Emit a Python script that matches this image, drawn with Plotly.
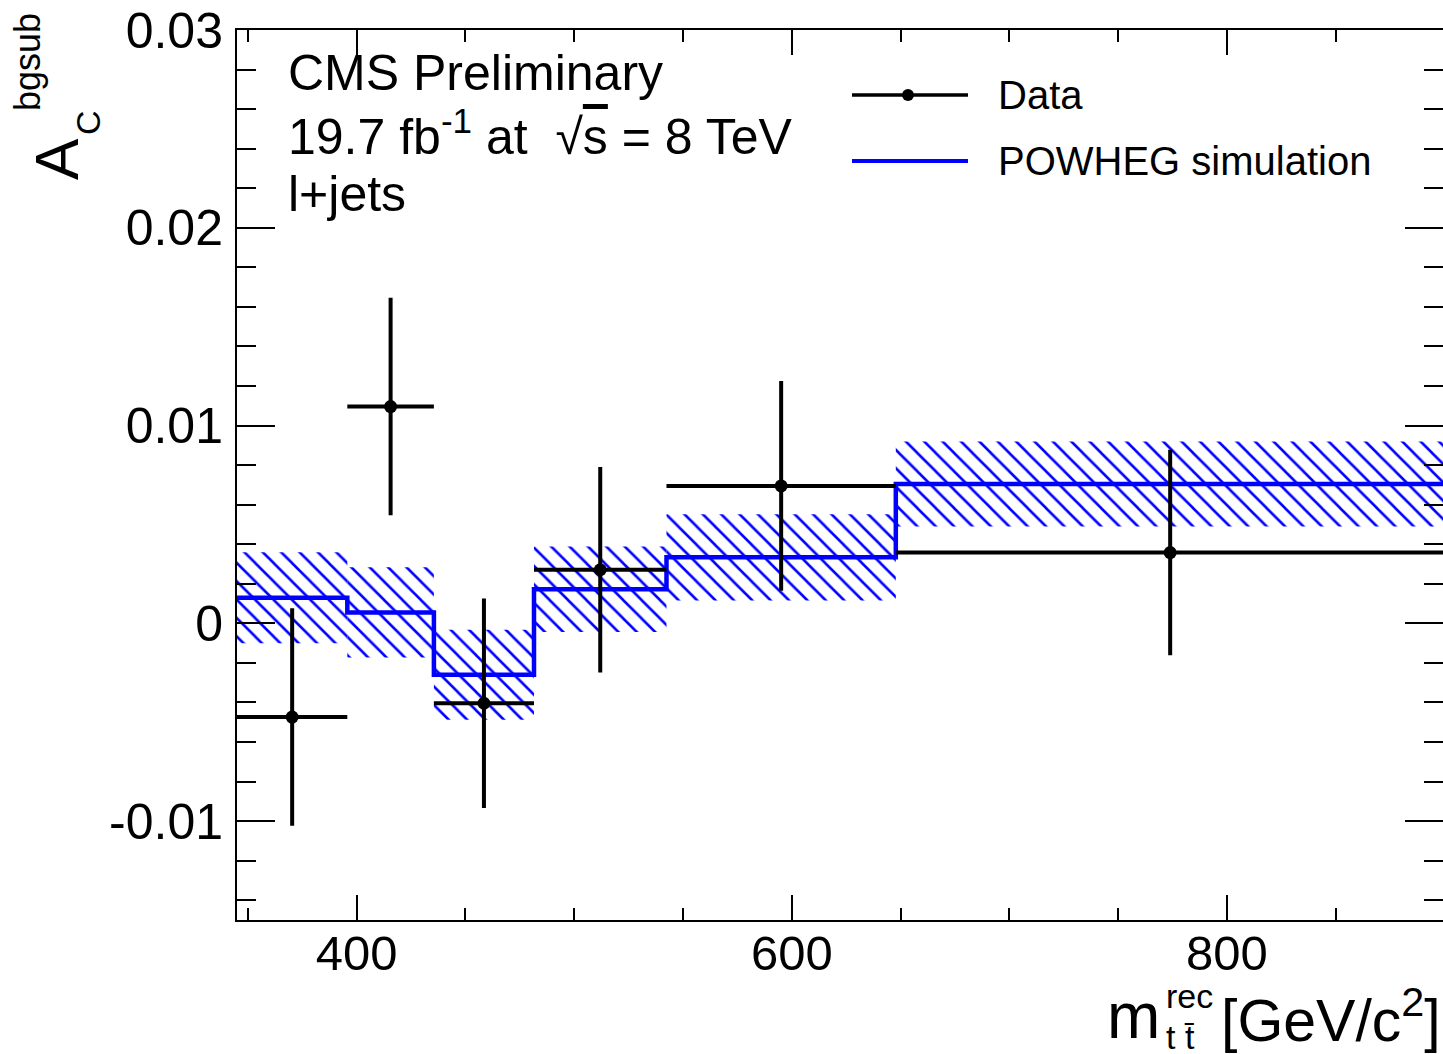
import plotly.graph_objects as go

# ---------------- data ----------------
bin_edges = [345, 395.7, 435.5, 481.5, 542.4, 647.8, 900]
data_val = [-0.00474, 0.01096, -0.00404, 0.00271, 0.00695, 0.00358]
data_err = [0.0055, 0.0055, 0.0053, 0.0052, 0.0053, 0.0052]
sim_val = [0.00129, 0.00055, -0.00260, 0.00172, 0.00334, 0.00705]
sim_err = [0.00230, 0.00228, 0.00228, 0.00216, 0.00218, 0.00215]

y_tickvals = [-0.01, 0, 0.01, 0.02, 0.03]
y_ticktext = ["-0.01", "0", "0.01", "0.02", "0.03"]
x_tickvals = [400, 600, 800]
x_ticktext = ["400", "600", "800"]

# ---------------- layout geometry ----------------
W, H = 1443, 1054
L, R, T, B = 237, 1443, 30, 920  # plot area in pixels
XR = [345, 899.3]
YR = [-0.015, 0.03]


def px(x):
    return (x - L) / (R - L)


def py(y):
    return (B - y) / (B - T)


centers = [(a + b) / 2 for a, b in zip(bin_edges[:-1], bin_edges[1:])]
widths = [b - a for a, b in zip(bin_edges[:-1], bin_edges[1:])]
halfw = [w / 2 for w in widths]

FONT = "Liberation Sans, Arial, Helvetica, sans-serif"
BLUE = "#0000ff"

fig = go.Figure()

# simulation uncertainty band (hatched)
fig.add_trace(go.Bar(
    x=centers,
    y=[2 * e for e in sim_err],
    base=[v - e for v, e in zip(sim_val, sim_err)],
    width=widths,
    marker=dict(
        color="rgba(0,0,0,0)",
        line=dict(width=0),
        pattern=dict(shape="\\", fgcolor=BLUE, bgcolor="rgba(0,0,0,0)",
                     size=13, solidity=0.2, fillmode="replace"),
    ),
    showlegend=False,
    hoverinfo="skip",
))

# simulation step line
fig.add_trace(go.Scatter(
    x=bin_edges,
    y=sim_val + [sim_val[-1]],
    mode="lines",
    line=dict(color=BLUE, width=4.5, shape="hv"),
    showlegend=False,
))

# data points with errors
fig.add_trace(go.Scatter(
    x=centers,
    y=data_val,
    mode="markers",
    marker=dict(color="black", size=13),
    error_x=dict(type="data", array=halfw, color="black", thickness=4, width=0),
    error_y=dict(type="data", array=data_err, color="black", thickness=4, width=0),
    showlegend=False,
))

axis_common = dict(
    ticks="inside",
    tickwidth=2,
    tickcolor="black",
    linecolor="black",
    linewidth=2,
    showgrid=False,
    zeroline=False,
)

fig.update_layout(
    width=W,
    height=H,
    margin=dict(l=L, r=W - R, t=T, b=H - B),
    paper_bgcolor="white",
    plot_bgcolor="white",
    barmode="overlay",
    font=dict(family=FONT, color="black"),
    xaxis=dict(
        range=XR,
        tickvals=x_tickvals,
        ticktext=x_ticktext,
        ticklen=25,
        showline=True,
        tickfont=dict(size=49, family=FONT),
        ticklabelstandoff=-11,
        minor=dict(dtick=50, tick0=0, ticklen=12, tickwidth=2, ticks="inside", tickcolor="black"),
        **axis_common,
    ),
    yaxis=dict(
        range=YR,
        tickvals=y_tickvals,
        ticktext=y_ticktext,
        ticklen=38,
        showline=True,
        tickfont=dict(size=50, family=FONT),
        ticklabelstandoff=2,
        minor=dict(dtick=0.002, tick0=0, ticklen=19, tickwidth=2, ticks="inside", tickcolor="black"),
        **axis_common,
    ),
    xaxis2=dict(
        overlaying="x",
        matches="x",
        side="top",
        anchor="y",
        range=XR,
        tickvals=x_tickvals,
        ticklen=25,
        showline=True,
        showticklabels=False,
        minor=dict(dtick=50, tick0=0, ticklen=12, tickwidth=2, ticks="inside", tickcolor="black"),
        **axis_common,
    ),
    yaxis2=dict(
        overlaying="y",
        matches="y",
        side="right",
        anchor="x",
        range=YR,
        tickvals=y_tickvals,
        ticklen=38,
        showline=False,
        showticklabels=False,
        minor=dict(dtick=0.002, tick0=0, ticklen=19, tickwidth=2, ticks="inside", tickcolor="black"),
        **{k: v for k, v in axis_common.items() if k not in ("linecolor", "linewidth")},
    ),
)

# invisible carrier so the mirror axes are drawn
fig.add_trace(go.Scatter(x=[], y=[], xaxis="x2", yaxis="y2", showlegend=False, hoverinfo="skip"))

ann = []


def text(x, y, s, size, xanchor="left", yanchor="middle", angle=0):
    ann.append(dict(x=px(x), y=py(y), xref="paper", yref="paper", text=s, showarrow=False,
                    xanchor=xanchor, yanchor=yanchor, textangle=angle,
                    font=dict(size=size, family=FONT, color="black")))


# CMS text block
text(286, 73, "CMS Preliminary", 50)
text(286, 133, "19.7 fb<sup>-1</sup> at  \u221a<span style='text-decoration:overline'>s</span> = 8 TeV", 50)
text(286, 194, "l+jets", 50)

# legend
text(996, 95, "Data", 40)
text(996, 161, "POWHEG simulation", 40)

# x axis title
text(1105, 1016, "m", 64)
text(1164, 996, "rec", 34)
text(1164, 1037, "t t\u0304", 34)
text(1443, 1016, "[GeV/c<sup>2</sup>]", 59, xanchor="right")

# y axis title (rotated)
text(57, 159, "A", 62, xanchor="center", angle=-90)
text(88, 123, "C", 34, xanchor="center", angle=-90)
text(28, 62, "bgsub", 36, xanchor="center", angle=-90)

fig.update_layout(annotations=ann)

# legend symbols
shapes = [
    dict(type="line", xref="paper", yref="paper", x0=px(852), x1=px(968), y0=py(95), y1=py(95),
         line=dict(color="black", width=3.5)),
    dict(type="circle", xref="paper", yref="paper", x0=px(902), x1=px(914), y0=py(89), y1=py(101),
         fillcolor="black", line=dict(color="black", width=0)),
    dict(type="line", xref="paper", yref="paper", x0=px(852), x1=px(968), y0=py(161), y1=py(161),
         line=dict(color=BLUE, width=4)),
]
fig.update_layout(shapes=shapes)

fig.write_html("out.html")
